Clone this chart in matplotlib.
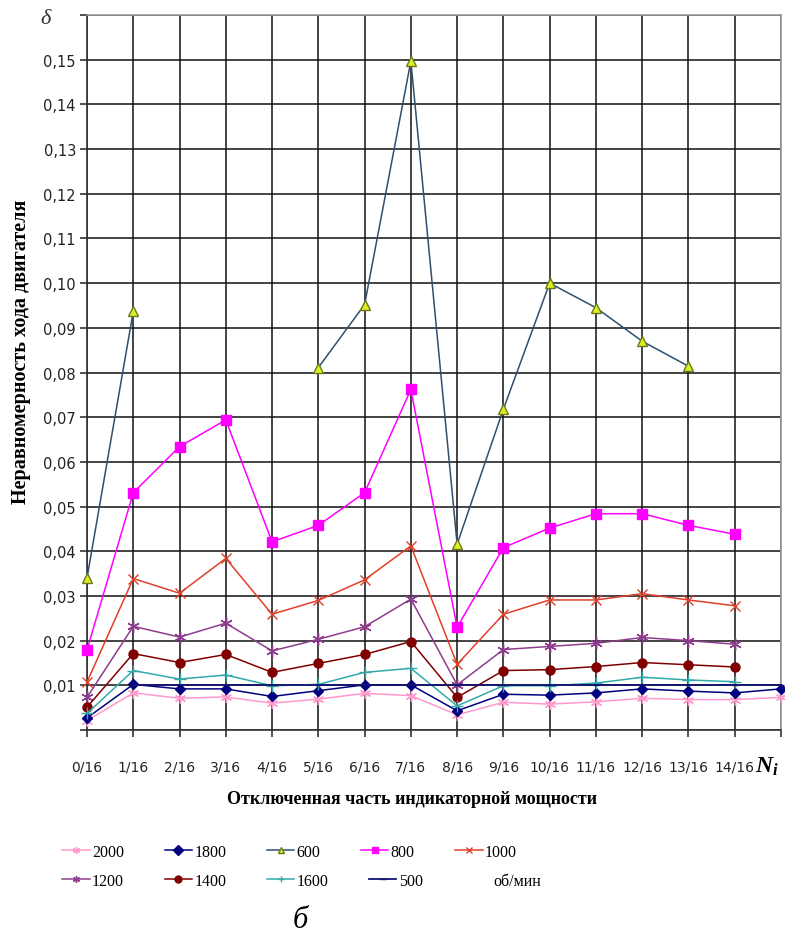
import numpy as np
import matplotlib
matplotlib.use('Agg')
from matplotlib import pyplot as plt
from matplotlib.lines import Line2D

plt.rcParams['font.family'] = ['DejaVu Sans']
plt.rcParams['mathtext.fontset'] = 'custom'
plt.rcParams['mathtext.it'] = 'Liberation Serif:italic:bold'
plt.rcParams['mathtext.rm'] = 'Liberation Serif:bold'

nan = np.nan

# отключенная часть индикаторной мощности, 0/16 ... 14/16 (+ последняя точка)
x_labels = ['0/16', '1/16', '2/16', '3/16', '4/16', '5/16', '6/16', '7/16',
            '8/16', '9/16', '10/16', '11/16', '12/16', '13/16', '14/16']

# неравномерность хода, по частотам вращения (об/мин)
d2000 = [0.0021, 0.0083, 0.0071, 0.0074, 0.0060, 0.0069, 0.0082, 0.0077,
         0.0034, 0.0062, 0.0058, 0.0063, 0.0071, 0.0068, 0.0068, 0.0073]
d1800 = [0.0027, 0.0102, 0.0092, 0.0092, 0.0075, 0.0088, 0.0101, 0.0101,
         0.0043, 0.0080, 0.0078, 0.0083, 0.0092, 0.0087, 0.0083, 0.0092]
d600 = [0.0340, 0.0937, nan, nan, nan, 0.0811, 0.0952, 0.1497,
        0.0416, 0.0718, 0.1000, 0.0945, 0.0870, 0.0814, nan, nan]
d800 = [0.0179, 0.0531, 0.0634, 0.0694, 0.0421, 0.0458, 0.0531, 0.0762,
        0.0230, 0.0408, 0.0452, 0.0484, 0.0484, 0.0458, 0.0438, nan]
d1000 = [0.0107, 0.0339, 0.0306, 0.0384, 0.0259, 0.0290, 0.0336, 0.0412,
         0.0147, 0.0259, 0.0291, 0.0291, 0.0305, 0.0291, 0.0278, nan]
d1200 = [0.0073, 0.0232, 0.0208, 0.0239, 0.0177, 0.0203, 0.0231, 0.0293,
         0.0101, 0.0180, 0.0187, 0.0194, 0.0207, 0.0200, 0.0192, nan]
d1400 = [0.0051, 0.0171, 0.0151, 0.0169, 0.0129, 0.0149, 0.0169, 0.0198,
         0.0073, 0.0133, 0.0135, 0.0142, 0.0151, 0.0146, 0.0141, nan]
d1600 = [0.0037, 0.0133, 0.0114, 0.0123, 0.0099, 0.0102, 0.0129, 0.0138,
         0.0054, 0.0099, 0.0099, 0.0105, 0.0118, 0.0112, 0.0108, nan]
d500 = [nan, 0.0100, 0.0100, 0.0100, 0.0100, 0.0100, 0.0100, 0.0100,
        0.0100, 0.0100, 0.0100, 0.0100, 0.0100, 0.0100, 0.0100, 0.0100]

series = [
  ('2000', d2000, dict(color='#FF99CC', marker=(6, 2, 0), ms=8, mfc='#FF99CC', mec='#FF99CC')),
  ('1800', d1800, dict(color='#000080', marker='D', ms=5.5, mfc='#000080', mec='#000080')),
  ('600', d600, dict(color='#2F4F6F', marker='^', ms=6.5, mfc='#DDEE22', mec='#6B7A20')),
  ('800', d800, dict(color='#FF00FF', marker='s', ms=6.5, mfc='#FF00FF', mec='#FF00FF')),
  ('1000', d1000, dict(color='#E0402A', marker='x', ms=7, mfc='#E0402A', mec='#E0402A')),
  ('1200', d1200, dict(color='#8E3C8E', marker=(6, 2, 0), ms=9, mfc='#8E3C8E', mec='#8E3C8E')),
  ('1400', d1400, dict(color='#800000', marker='o', ms=6.5, mfc='#800000', mec='#800000')),
  ('1600', d1600, dict(color='#33AAAA', marker='+', ms=8, mfc='#33AAAA', mec='#33AAAA')),
  ('500', d500, dict(color='#141470', marker='_', ms=4, mfc='#141470', mec='#141470')),
]

fig = plt.figure(figsize=(7.85, 9.45), dpi=100)
ax = fig.add_axes([87 / 785, 1 - 731 / 945, 694 / 785, 715 / 945])

x = np.arange(16)
ax.set_xlim(0, 15)
ax.set_ylim(0, 0.16)

yt = np.round(np.arange(0, 0.161, 0.01), 2)
ax.set_yticks(yt)
ax.set_yticklabels(['' if v in (0, 0.16) else f'{v:.2f}'.replace('.', ',') for v in yt],
                   fontsize=10.5, color='#222222')
ax.set_xticks(x)
ax.set_xticklabels(x_labels + [''], fontsize=10, color='#222222')
ax.tick_params(axis='both', direction='out', length=5, width=1.2, color='#333333', pad=3)
ax.tick_params(axis='x', pad=16)
ax.grid(True, color='#111111', linewidth=1.1)
ax.set_axisbelow(True)
for side in ['left', 'bottom']:
  ax.spines[side].set_color('#333333')
  ax.spines[side].set_linewidth(1.2)
for side in ['top', 'right']:
  ax.spines[side].set_color('#999999')
  ax.spines[side].set_linewidth(1.2)

handles = []
for name, vals, st in series:
  lw = 1.3 if name == '500' else 1.1
  line, = ax.plot(x, vals, linewidth=lw, clip_on=False, zorder=3, **st)
  handles.append(line)

fig.text(46 / 785, 1 - 19 / 945, 'δ', fontsize=16, family='Liberation Serif', style='italic',
         ha='center', va='center', color='#333333')
fig.text(767 / 785, 1 - 766 / 945, r'$\mathit{N_i}$', fontsize=17, ha='center', va='center')

fig.text(21 / 785, 1 - 352 / 945, 'Неравномерность хода двигателя', rotation=90,
         fontsize=14.5, family='Liberation Serif', weight='bold', ha='center', va='center')
fig.text(412 / 785, 1 - 800 / 945, 'Отключенная часть индикаторной мощности',
         fontsize=13, family='Liberation Serif', weight='bold', ha='center', va='center')

leg_kw = dict(frameon=False, handlelength=1.7, handletextpad=0.15, columnspacing=2.55,
              ncol=5, prop=dict(family='Liberation Serif', size=11.5))
row1 = handles[:5]
row2 = handles[5:] + [Line2D([], [], color='none')]
labels2 = [s[0] for s in series[5:]] + ['об/мин']
leg1 = fig.legend(row1, [s[0] for s in series[:5]], loc='center left',
                  bbox_to_anchor=(48 / 785, 1 - 853 / 945), **leg_kw)
leg2 = fig.legend(row2, labels2, loc='center left',
                  bbox_to_anchor=(48 / 785, 1 - 882 / 945), **leg_kw)
for h in leg1.legend_handles + leg2.legend_handles:
  h.set_markersize(5)

fig.text(300 / 785, 1 - 921 / 945, 'б', fontsize=22, family='Liberation Serif', style='italic',
         ha='center', va='center')

plt.savefig('out.png', dpi=100)
